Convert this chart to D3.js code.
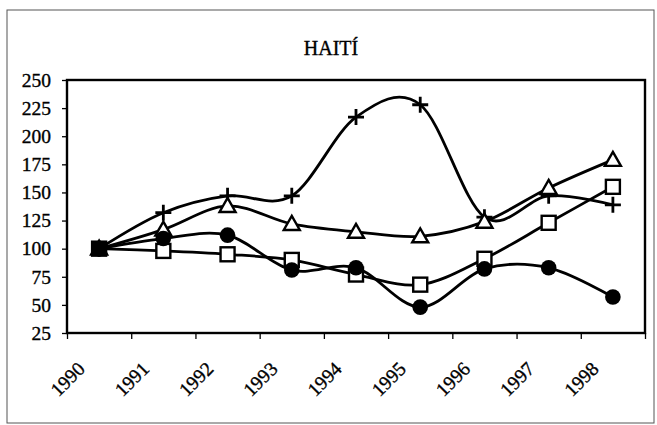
<!DOCTYPE html>
<html>
<head>
<meta charset="utf-8">
<script src="https://cdn.jsdelivr.net/npm/d3@7"></script>
<style>
  body { margin: 0; background: #fff; }
  text { font-family: "Liberation Serif", "Times New Roman", serif; fill: #000; stroke: #000; stroke-width: 0.35px; }
</style>
</head>
<body>
<div class="svg-container"></div>
<script>
var years = ["1990", "1991", "1992", "1993", "1994", "1995", "1996", "1997", "1998"];
var yTicks = [25, 50, 75, 100, 125, 150, 175, 200, 225, 250];
var plusValues = [100, 132, 147, 147, 217, 228, 128, 147, 139];
var triangleValues = [100, 117, 138, 122, 115, 111, 124, 154, 179];
var squareValues = [100, 98, 95, 90, 77, 68, 91, 123, 155];
var circleValues = [100, 109, 112, 81, 83, 48, 82, 83, 57];

var width = 657, height = 425;
var plot = {left: 67, right: 645, top: 80, bottom: 333};

var svg = d3.select(".svg-container").append("svg")
            .attr("width", width)
            .attr("height", height)
            .style("background-color", "#fff");

// outer chart frame
svg.append("rect")
   .attr("x", 7).attr("y", 10)
   .attr("width", 647).attr("height", 413)
   .attr("fill", "none")
   .attr("stroke", "#555")
   .attr("stroke-width", 1);

svg.append("text")
   .attr("x", 331).attr("y", 55)
   .attr("text-anchor", "middle")
   .style("font-size", "20px")
   .text("HAITÍ");

var x = d3.scaleBand().domain(years).range([plot.left, plot.right]);
var xEdge = d3.scaleLinear().domain([0, years.length]).range([plot.left, plot.right]);
var y = d3.scaleLinear().domain([25, 250]).range([plot.bottom, plot.top]);
var cx = function(i) { return x(years[i]) + x.bandwidth() / 2; };

// y axis
var yAxis = svg.append("g")
               .attr("transform", "translate(" + plot.left + ",0)")
               .call(d3.axisLeft(y).tickValues(yTicks).tickSize(5).tickPadding(11));
yAxis.select(".domain").remove();
yAxis.selectAll("line").attr("stroke", "#000").attr("stroke-width", 1.3);
yAxis.selectAll("text").style("font-size", "19.5px").attr("font-family", null);

// x axis ticks at category edges
var xAxis = svg.append("g")
               .attr("transform", "translate(0," + plot.bottom + ")")
               .call(d3.axisBottom(xEdge).tickValues(d3.range(years.length + 1)).tickSize(6).tickFormat(""));
xAxis.select(".domain").remove();
xAxis.selectAll("line").attr("stroke", "#000").attr("stroke-width", 1.3);

svg.append("g").selectAll("text")
   .data(years)
   .enter()
   .append("text")
   .attr("transform", function(d) {
       return "translate(" + (x(d) + x.bandwidth() / 2 - 13) + ",370) rotate(-45)";
   })
   .attr("text-anchor", "end")
   .style("font-size", "19.5px")
   .text(function(d) { return d; });

// plot area border
svg.append("rect")
   .attr("x", plot.left).attr("y", plot.top)
   .attr("width", plot.right - plot.left)
   .attr("height", plot.bottom - plot.top)
   .attr("fill", "none")
   .attr("stroke", "#000")
   .attr("stroke-width", 2.4);

var line = d3.line()
             .x(function(d, i) { return cx(i); })
             .y(function(d) { return y(d); })
             .curve(d3.curveCardinal.tension(0));

[plusValues, triangleValues, squareValues, circleValues].forEach(function(vals) {
    svg.append("path")
       .datum(vals)
       .attr("d", line)
       .attr("fill", "none")
       .attr("stroke", "#000")
       .attr("stroke-width", 2.8);
});

// plus markers
svg.append("g").selectAll("path")
   .data(plusValues)
   .enter()
   .append("path")
   .attr("d", function(d, i) {
       var px = cx(i), py = y(d), s = 8;
       return "M" + (px - s) + "," + py + "H" + (px + s) + "M" + px + "," + (py - s) + "V" + (py + s);
   })
   .attr("stroke", "#000")
   .attr("stroke-width", 2.8);

// triangle markers
svg.append("g").selectAll("path")
   .data(triangleValues)
   .enter()
   .append("path")
   .attr("d", function(d, i) {
       var px = cx(i), py = y(d);
       return "M" + px + "," + (py - 8) + "L" + (px + 8) + "," + (py + 6) + "L" + (px - 8) + "," + (py + 6) + "Z";
   })
   .attr("fill", "#fff")
   .attr("stroke", "#000")
   .attr("stroke-width", 2.4);

// square markers
svg.append("g").selectAll("rect")
   .data(squareValues)
   .enter()
   .append("rect")
   .attr("x", function(d, i) { return cx(i) - 7; })
   .attr("y", function(d) { return y(d) - 7; })
   .attr("width", 14).attr("height", 14)
   .attr("fill", function(d, i) { return i === 0 ? "#000" : "#fff"; })
   .attr("stroke", "#000")
   .attr("stroke-width", 2.4);

// circle markers
svg.append("g").selectAll("circle")
   .data(circleValues)
   .enter()
   .append("circle")
   .attr("cx", function(d, i) { return cx(i); })
   .attr("cy", function(d) { return y(d); })
   .attr("r", 7.8)
   .attr("fill", "#000");
</script>
</body>
</html>
